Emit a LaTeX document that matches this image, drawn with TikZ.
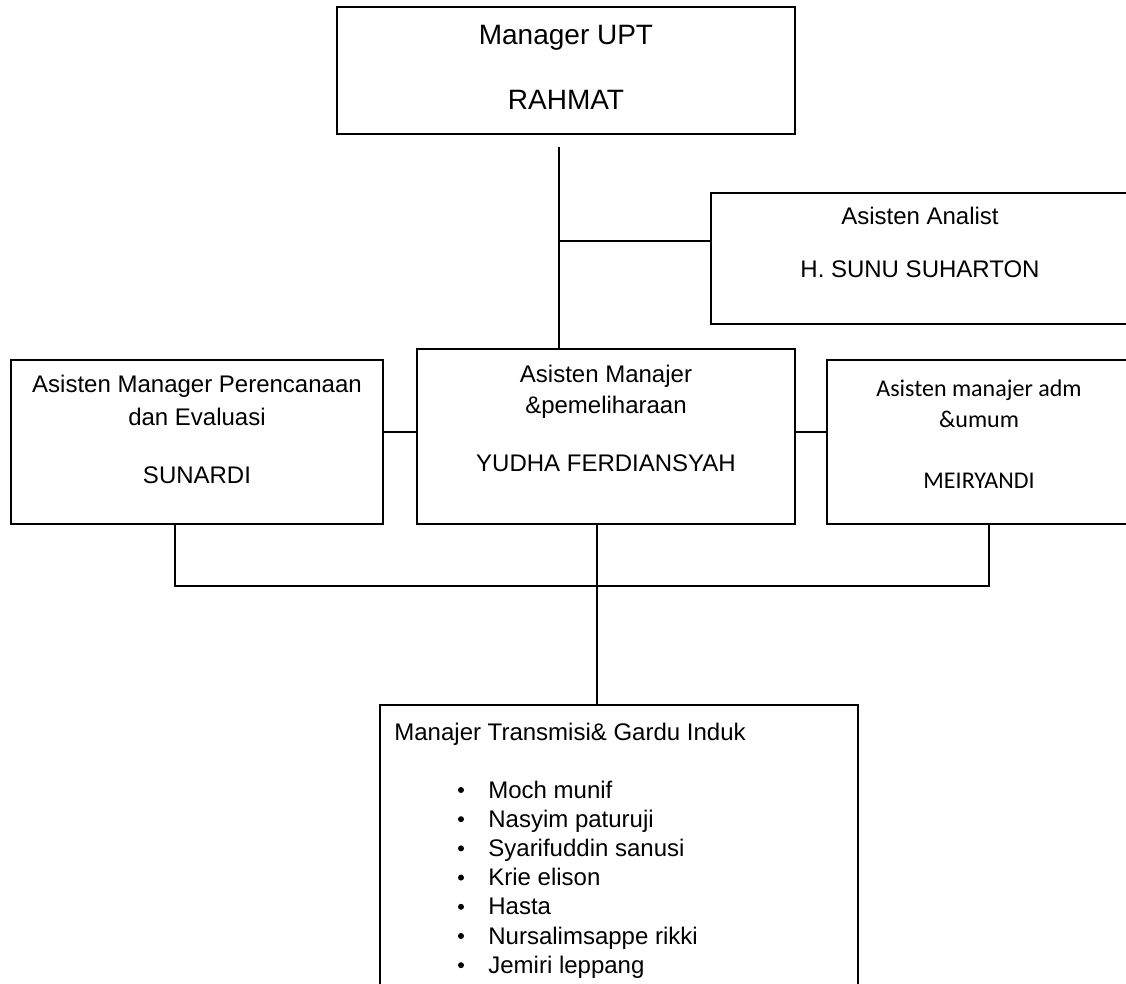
\documentclass[tikz,border=0pt]{standalone}
\usepackage{fontspec}
\setmainfont{Liberation Sans}
\newfontfamily\calibri{Carlito}
\usetikzlibrary{positioning}

\begin{document}
\begin{tikzpicture}[x=0.5pt,y=-0.5pt,
every node/.style={inner sep=0pt},
kotak/.style={draw,line width=1pt},
txt/.style={anchor=base,font=\fontsize{12}{14}\selectfont},
besar/.style={anchor=base,font=\fontsize{14}{16}\selectfont},
bulet/.style={circle,fill,minimum size=3pt}]
\useasboundingbox (0,0) rectangle (1126,984);
\clip (0,0) rectangle (1126,984);
% kotak-kotak
\node[kotak,minimum width=229pt,minimum height=63.5pt] (upt) at (566,70.5) {};
\node[kotak,minimum width=209.5pt,minimum height=65.5pt] (analis) at (920.5,258.5) {};
\node[kotak,minimum width=186pt,minimum height=82pt] (renc) at (197,442) {};
\node[kotak,minimum width=189pt,minimum height=87.5pt] (har) at (606,436.5) {};
\node[kotak,minimum width=152pt,minimum height=82pt] (adm) at (979,442) {};
\node[kotak,minimum width=239pt,minimum height=147.5pt] (gi) at (619,852.5) {};
% teks
\node[besar] (upt1) at (566,45) {Manager UPT};
\node[besar] (upt2) at (566,110) {RAHMAT};
\node[txt] (analis1) at (920,225) {Asisten Analist};
\node[txt] (analis2) at (920,278) {H. SUNU SUHARTON};
\node[txt] (renc1) at (197,393) {Asisten Manager Perencanaan};
\node[txt] (renc2) at (197,426) {dan Evaluasi};
\node[txt] (renc3) at (197,484) {SUNARDI};
\node[txt] (har1) at (606,383) {Asisten Manajer};
\node[txt] (har2) at (606,414) {\&pemeliharaan};
\node[txt] (har3) at (606,472) {YUDHA FERDIANSYAH};
\node[txt,font=\calibri\fontsize{12}{14}\selectfont] (adm1) at (979,397) {Asisten manajer adm};
\node[txt,font=\calibri\fontsize{12}{14}\selectfont] (adm2) at (979,428) {\&umum};
\node[txt,font=\calibri\fontsize{12}{14}\selectfont] (adm3) at (979,488) {MEIRYANDI};
\node[txt,anchor=base west] (gi0) at (394,740) {Manajer Transmisi\& Gardu Induk};
\foreach \nama [count=\i] in {Moch munif,Nasyim paturuji,Syarifuddin sanusi,Krie elison,Hasta,Nursalimsappe rikki,Jemiri leppang}
{
\node[txt,anchor=base west] (gi\i) at (488,{798+29.2*(\i-1)}) {\nama};
\node[bulet] (b\i) at (461,{790+29.2*(\i-1)}) {};
}
% garis
\coordinate (v0) at (559,147);
\coordinate (v1) at (559,241);
\coordinate (h1) at (400,432);
\coordinate (h2) at (811,432);
\coordinate (kb) at (175,586);
\coordinate (kn) at (989,586);
\coordinate (tb) at (597,586);
\draw[line width=1pt] (v0) -- (v0 |- har.north);
\draw[line width=1pt] (v1) -- (v1 -| analis.west);
\draw[line width=1pt] (h1 -| renc.east) -- (h1 -| har.west);
\draw[line width=1pt] (h2 -| har.east) -- (h2 -| adm.west);
\draw[line width=1pt] (kb |- renc.south) -- (kb) -- (kn) -- (kn |- adm.south);
\draw[line width=1pt] (tb |- har.south) -- (tb |- gi.north);
\end{tikzpicture}
\end{document}
